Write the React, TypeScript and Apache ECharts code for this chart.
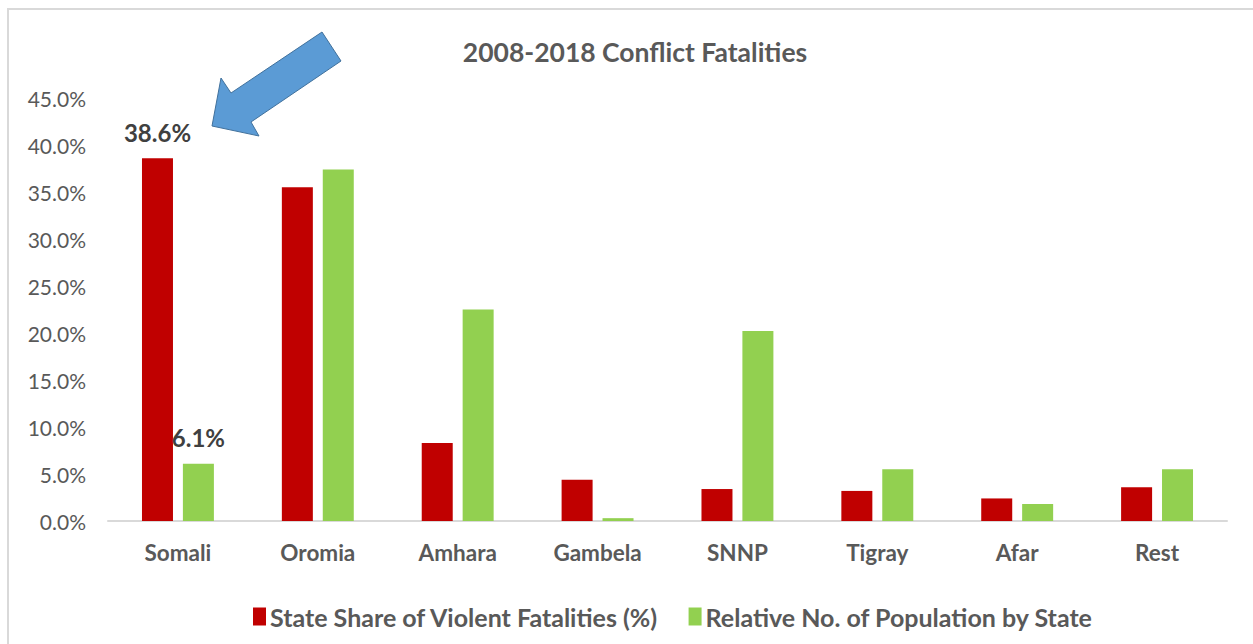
import React, { useEffect, useRef } from "react";
import * as echarts from "echarts";

const categories = ["Somali", "Oromia", "Amhara", "Gambela", "SNNP", "Tigray", "Afar", "Rest"];
const fatalityShare = [38.6, 35.5, 8.3, 4.4, 3.4, 3.2, 2.4, 3.6];
const populationShare = [6.1, 37.4, 22.5, 0.3, 20.2, 5.5, 1.8, 5.5];
const labeledIndex = 0;
const yTicks = { min: 0, max: 45, interval: 5 };

const seriesNames = ["State Share of Violent Fatalities (%)", "Relative No. of Population by State"];
const FONT = "Lato, 'Open Sans', sans-serif";

export default function App() {
  const ref = useRef<HTMLDivElement>(null);
  useEffect(() => {
    if (!ref.current) return;
    const chart = echarts.init(ref.current, null, { renderer: "svg" });
    const mk = (vals: number[]) =>
      vals.map((v, i) => ({
        value: v,
        label: {
          show: i === labeledIndex,
          position: "top",
          distance: 14,
          formatter: (p: any) => p.value.toFixed(1) + "%",
          fontFamily: FONT,
          fontWeight: "bold",
          fontSize: 24,
          color: "#404040",
        },
      }));
    chart.setOption({
      animation: false,
      backgroundColor: "#ffffff",
      title: {
        text: "2008-2018 Conflict Fatalities",
        left: 630,
        textAlign: "center",
        top: 33,
        textStyle: { fontFamily: FONT, fontWeight: "bold", fontSize: 26.5, color: "#595959" },
      },
      legend: {
        bottom: 10,
        left: 248,
        itemWidth: 13,
        itemHeight: 18,
        itemGap: 30,
        icon: "rect",
        textStyle: { fontFamily: FONT, fontWeight: "bold", fontSize: 25, color: "#595959", padding: [0, 0, 0, -1] },
        data: seriesNames,
      },
      grid: { left: 108, right: 26, top: 98, bottom: 123 },
      xAxis: {
        type: "category",
        data: categories,
        axisLine: { lineStyle: { color: "#d9d9d9", width: 2 } },
        axisTick: { show: false },
        axisLabel: { fontFamily: FONT, fontWeight: "bold", fontSize: 22.5, color: "#595959", margin: 20 },
      },
      yAxis: {
        type: "value",
        min: yTicks.min,
        max: yTicks.max,
        interval: yTicks.interval,
        splitLine: { show: false },
        axisLine: { show: false },
        axisTick: { show: false },
        axisLabel: {
          fontFamily: FONT,
          fontSize: 21,
          color: "#595959",
          margin: 22,
          formatter: (v: number) => v.toFixed(1) + "%",
        },
      },
      series: [
        {
          name: seriesNames[0],
          type: "bar",
          data: mk(fatalityShare),
          barWidth: 31,
          barGap: "32%",
          itemStyle: { color: "#c00000" },
        },
        {
          name: seriesNames[1],
          type: "bar",
          data: mk(populationShare),
          barWidth: 31,
          itemStyle: { color: "#92d050" },
        },
      ],
      graphic: [
        {
          type: "rect",
          silent: true,
          shape: { x: 8, y: 9, width: 1300, height: 700 },
          style: { fill: "none", stroke: "#d9d9d9", lineWidth: 2 },
        },
        {
          type: "polygon",
          silent: true,
          shape: {
            points: [
              [212, 126],
              [221, 78],
              [231, 93],
              [322, 32],
              [341, 61],
              [251, 122],
              [259, 136],
            ],
          },
          style: { fill: "#5b9bd5", stroke: "#41719c", lineWidth: 1 },
        },
      ],
    });
    return () => chart.dispose();
  }, []);
  return (
    <div
      ref={ref}
      style={{ position: "fixed", left: 0, top: 0, width: 1253, height: 644 }}
    />
  );
}
